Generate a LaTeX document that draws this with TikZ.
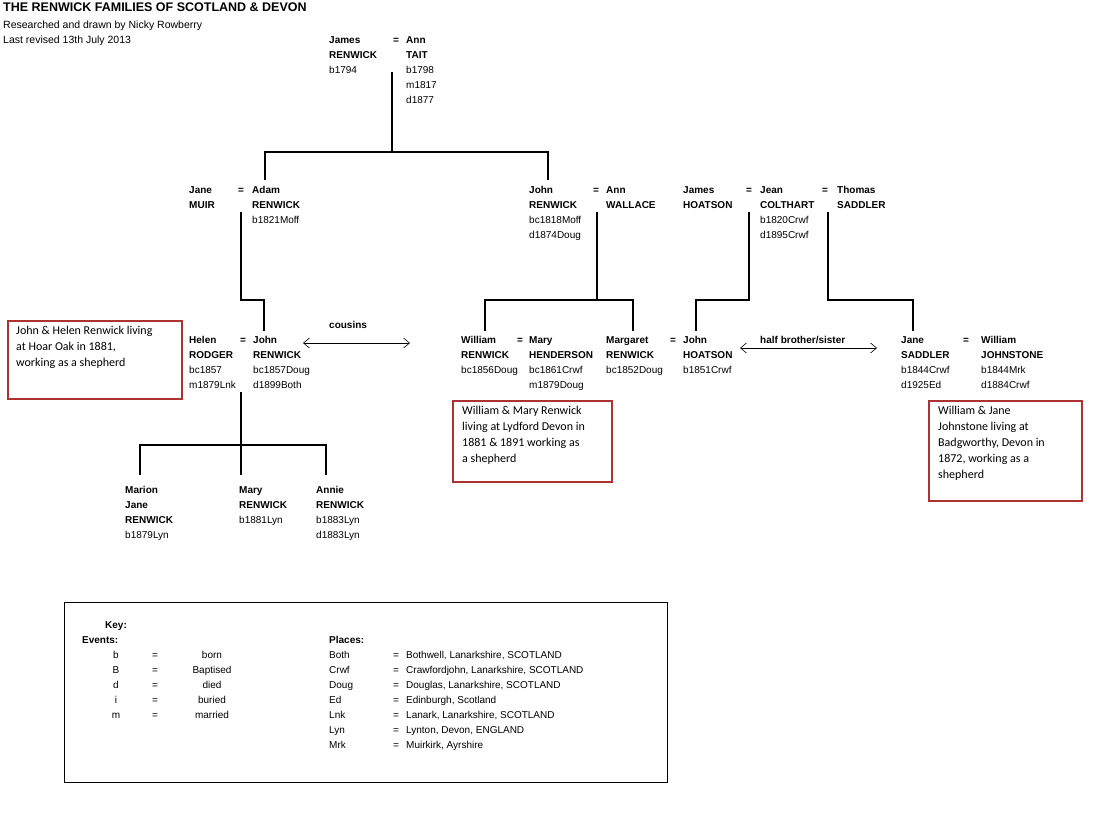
\documentclass[tikz,border=0pt]{standalone}
\usepackage{fontspec}
\usetikzlibrary{arrows.meta}
\setmainfont{Liberation Sans}
\newfontfamily\boxfont{Carlito}
\begin{document}
\begin{tikzpicture}[x=1pt,y=-1pt,
  p/.style={anchor=north west,inner sep=0pt,align=left,font=\fontsize{10}{15}\selectfont,execute at begin node={\rule{0pt}{7.5pt}}},
  eq/.style={p,font=\fontsize{10}{15}\selectfont\bfseries},
  ln/.style={line width=1.8pt},
  nbox/.style={draw=red!60!black!80!white,line width=1.8pt,anchor=north west,inner sep=0pt},
  ntx/.style={anchor=north west,inner sep=0pt,align=left,font=\boxfont\fontsize{12}{16}\selectfont,execute at begin node={\rule{0pt}{9pt}}},
  ar/.style={{Straight Barb[length=6pt,width=10pt]}-{Straight Barb[length=6pt,width=10pt]},line width=0.6pt}]
\useasboundingbox (0,0) rectangle (1110,828);
\fill[white] (0,0) rectangle (1110,828);
\node[anchor=north west,inner sep=0pt,font=\fontsize{12.5}{14}\selectfont\bfseries] (title) at (3,3) {THE RENWICK FAMILIES OF SCOTLAND \& DEVON};
\node[p,font=\fontsize{10.5}{15}\selectfont] (sub) at (3,21) {Researched and drawn by Nicky Rowberry\\Last revised 13th July 2013};
\newcommand\pn[4]{\node[p] (#1) at (#2,#3) {#4};}
\newcommand\pe[3]{\node[eq] (#1) at (#2,#3) {=};}
% row 1
\pn{james}{329}{36}{\textbf{James}\\\textbf{RENWICK}\\b1794}
\pe{e1}{393}{36}
\pn{ann}{406}{36}{\textbf{Ann}\\\textbf{TAIT}\\b1798\\m1817\\d1877}
% row 2
\pn{jane}{189}{186}{\textbf{Jane}\\\textbf{MUIR}}
\pe{e2}{238}{186}
\pn{adam}{252}{186}{\textbf{Adam}\\\textbf{RENWICK}\\b1821Moff}
\pn{john1}{529}{186}{\textbf{John}\\\textbf{RENWICK}\\bc1818Moff\\d1874Doug}
\pe{e3}{593}{186}
\pn{ann2}{606}{186}{\textbf{Ann}\\\textbf{WALLACE}}
\pn{jamesh}{683}{186}{\textbf{James}\\\textbf{HOATSON}}
\pe{e4}{746}{186}
\pn{jean}{760}{186}{\textbf{Jean}\\\textbf{COLTHART}\\b1820Crwf\\d1895Crwf}
\pe{e5}{822}{186}
\pn{thomas}{837}{186}{\textbf{Thomas}\\\textbf{SADDLER}}
% row 3
\pn{helen}{189}{336}{\textbf{Helen}\\\textbf{RODGER}\\bc1857\\m1879Lnk}
\pe{e6}{240}{336}
\pn{john2}{253}{336}{\textbf{John}\\\textbf{RENWICK}\\bc1857Doug\\d1899Both}
\pn{will}{461}{336}{\textbf{William}\\\textbf{RENWICK}\\bc1856Doug}
\pe{e7}{517}{336}
\pn{mary}{529}{336}{\textbf{Mary}\\\textbf{HENDERSON}\\bc1861Crwf\\m1879Doug}
\pn{marg}{606}{336}{\textbf{Margaret}\\\textbf{RENWICK}\\bc1852Doug}
\pe{e8}{670}{336}
\pn{johnh}{683}{336}{\textbf{John}\\\textbf{HOATSON}\\b1851Crwf}
\pn{janes}{901}{336}{\textbf{Jane}\\\textbf{SADDLER}\\b1844Crwf\\d1925Ed}
\pe{e9}{963}{336}
\pn{willj}{981}{336}{\textbf{William}\\\textbf{JOHNSTONE}\\b1844Mrk\\d1884Crwf}
% row 4
\pn{marion}{125}{486}{\textbf{Marion}\\\textbf{Jane}\\\textbf{RENWICK}\\b1879Lyn}
\pn{mary2}{239}{486}{\textbf{Mary}\\\textbf{RENWICK}\\b1881Lyn}
\pn{annie}{316}{486}{\textbf{Annie}\\\textbf{RENWICK}\\b1883Lyn\\d1883Lyn}
% labels
\node[p] (cous) at (329,321) {\textbf{cousins}};
\node[p] (half) at (760,336) {\textbf{half brother/sister}};
\coordinate (c1) at (303,343); \coordinate (c2) at (410,343);
\draw[ar] (c1) -- (c2);
\coordinate (h1) at (740,348); \coordinate (h2) at (877,348);
\draw[ar] (h1) -- (h2);
% lines
\draw[ln] (392,72) -- (392,152);
\draw[ln] (265,180) -- (265,152) -- (548,152) -- (548,180);
\draw[ln] (241,212) -- (241,300) -- (264,300) -- (264,331);
\draw[ln] (597,212) -- (597,300);
\draw[ln] (485,331) -- (485,300) -- (633,300) -- (633,331);
\draw[ln] (749,212) -- (749,300) -- (696,300) -- (696,331);
\draw[ln] (828,212) -- (828,300) -- (913,300) -- (913,331);
\draw[ln] (241,392) -- (241,475);
\draw[ln] (140,475) -- (140,445) -- (326,445) -- (326,475);
% notes
\node[nbox,minimum width=174pt,minimum height=78pt] (n1) at (7,320) {};
\node[ntx] (t1) at (16,326) {John \& Helen Renwick living\\at Hoar Oak in 1881,\\working as a shepherd};
\node[nbox,minimum width=159pt,minimum height=81pt] (n2) at (452,400) {};
\node[ntx] (t2) at (462,406) {William \& Mary Renwick\\living at Lydford Devon in\\1881 \& 1891 working as\\a shepherd};
\node[nbox,minimum width=153pt,minimum height=100pt] (n3) at (928,400) {};
\node[ntx] (t3) at (938,406) {William \& Jane\\Johnstone living at\\Badgworthy, Devon in\\1872, working as a\\shepherd};
% key
\draw[line width=0.8pt] (64,602) rectangle (667,782);
\node[p] (key) at (105,621) {\textbf{Key:}};
\node[p] (ev) at (82,636) {\textbf{Events:}};
\node[p] (pl) at (329,636) {\textbf{Places:}};
\foreach \a/\w [count=\i] in {b/born,B/Baptised,d/died,i/buried,m/married}{
  \node[p,anchor=north] (ka\i) at (116,636+15*\i) {\a};
  \node[p,anchor=north] (ke\i) at (155,636+15*\i) {=};
  \node[p,anchor=north] (kw\i) at (212,636+15*\i) {\w};
}
\foreach \a/\w [count=\i] in {Both/{Bothwell, Lanarkshire, SCOTLAND},Crwf/{Crawfordjohn, Lanarkshire, SCOTLAND},Doug/{Douglas, Lanarkshire, SCOTLAND},Ed/{Edinburgh, Scotland},Lnk/{Lanark, Lanarkshire, SCOTLAND},Lyn/{Lynton, Devon, ENGLAND},Mrk/{Muirkirk, Ayrshire}}{
  \node[p] (pa\i) at (329,636+15*\i) {\a};
  \node[p] (pe\i) at (393,636+15*\i) {=};
  \node[p] (pw\i) at (406,636+15*\i) {\w};
}
\end{tikzpicture}
\end{document}
